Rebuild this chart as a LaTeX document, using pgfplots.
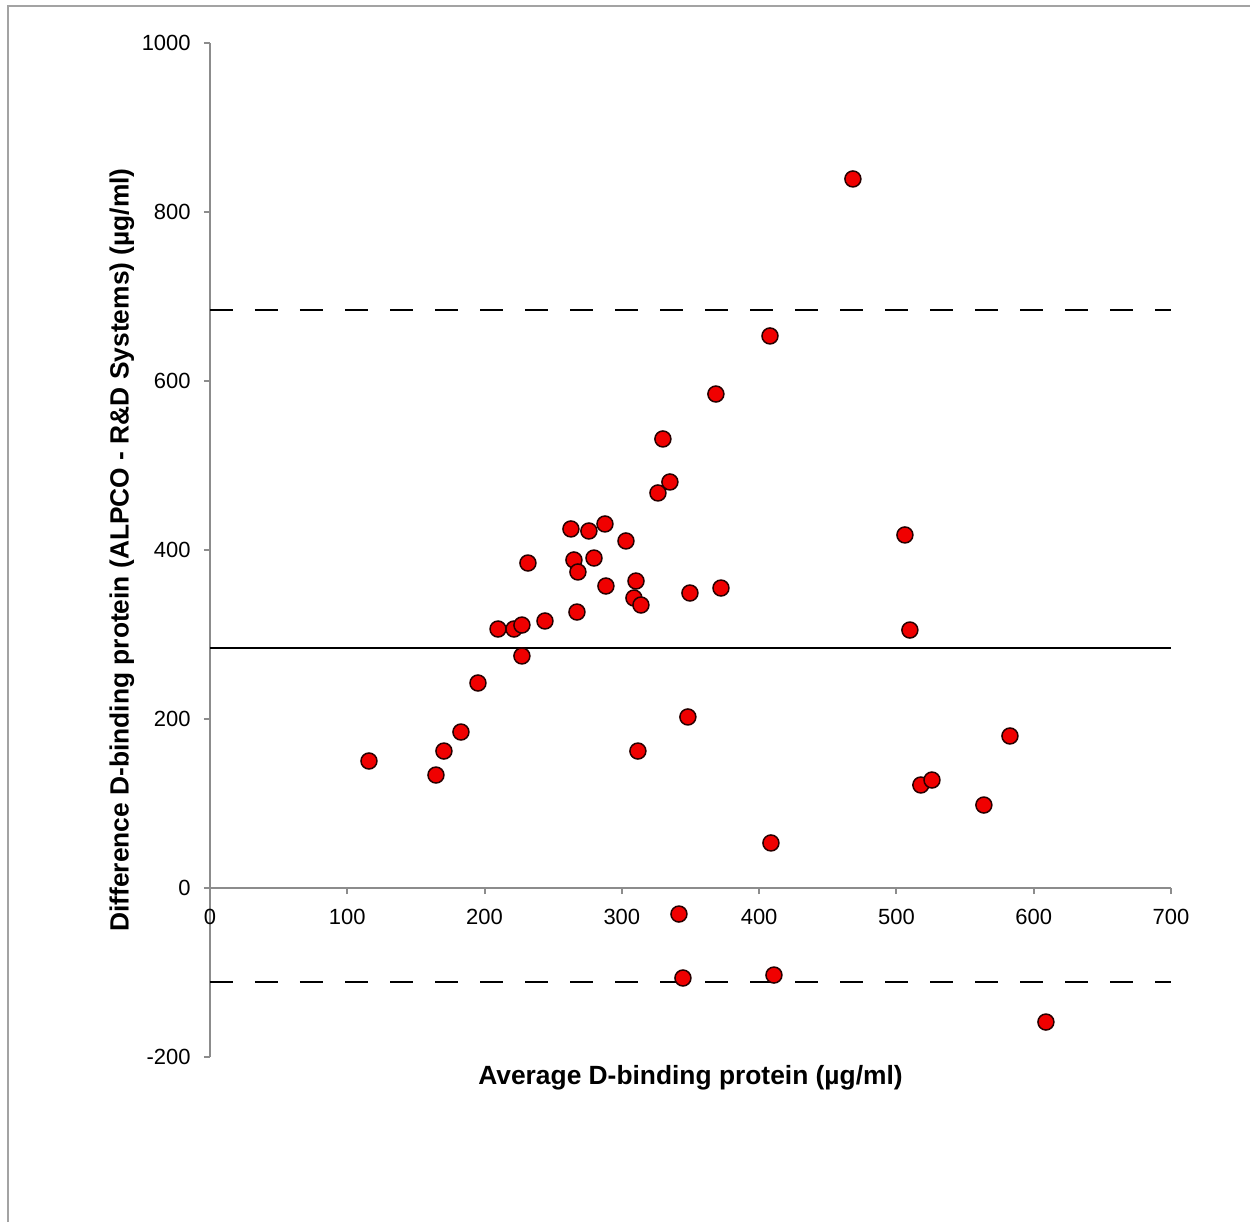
\documentclass[border=0pt]{standalone}
\usepackage{fontspec}
\setmainfont{Liberation Sans}
\usepackage{pgfplots}
\pgfplotsset{compat=1.18}
\definecolor{axgray}{HTML}{8C8C8C}
\definecolor{ptred}{HTML}{F00000}

\begin{document}
\begin{tikzpicture}
  % page = 1250 x 1222 px at 0.2 mm per px, axis box corner at the origin
  \path[use as bounding box] (-42mm,-33mm) rectangle (208mm,211.4mm);
  \begin{axis}[
      scale only axis,
      width=192.2mm,
      height=202.8mm,
      xmin=0, xmax=700,
      ymin=-200, ymax=1000,
      xtick={0,100,...,700},
      ytick={-200,0,...,1000},
      axis x line=middle,
      axis y line=left,
      hide obscured x ticks=false,
      axis line style={-, draw=axgray, line width=0.4mm},
      tick style={draw=axgray, line width=0.4mm},
      tick align=outside,
      major tick length=1.2mm,
      /pgf/number format/assume math mode=true,
      /pgf/number format/1000 sep={},
      tick label style={font=\fontsize{12.5}{14}\selectfont},
      xticklabel style={anchor=north, inner sep=0pt, yshift=-2.9mm},
      yticklabel style={anchor=east, inner sep=0pt, xshift=-2.6mm},
      label style={font=\fontsize{15}{18}\selectfont\bfseries},
      xlabel={Average D-binding protein (µg/ml)},
      ylabel={Difference D-binding protein (ALPCO - R\&D Systems) (µg/ml)},
      xlabel style={at={(axis description cs:0.5,-0.0207)}, anchor=center},
      ylabel style={at={(axis description cs:-0.0916,0.5)}, anchor=center, rotate=0},
      clip=false,
    ]
    % mean difference and limits of agreement
    \addplot[black, line width=0.4mm, mark=none] coordinates {(0,284) (700,284)};
    \addplot[black, line width=0.5mm, dash pattern=on 4.6mm off 4.4mm, mark=none]
      coordinates {(0,684) (700,684)};
    \addplot[black, line width=0.5mm, dash pattern=on 4.6mm off 4.4mm, mark=none]
      coordinates {(0,-111) (700,-111)};
    % paired samples
    \addplot[only marks, mark=*, mark size=1.6mm,
      mark options={fill=ptred, draw=black!85!red, line width=0.3mm}]
      coordinates {
        (115.8,150.3) (164.6,133.7) (170.4,162.1) (182.8,184.6) (195.2,242.6)
        (209.8,306.5) (221.4,306.5) (227.2,311.2) (227.2,274.6) (231.6,384.6)
        (244.0,316.0) (262.9,424.9) (265.1,388.2) (268.0,374.0) (267.3,326.6)
        (276.0,422.5) (279.7,390.5) (287.7,430.8) (288.4,357.4) (303.0,410.7)
        (310.3,363.3) (308.8,343.2) (313.9,334.9) (311.7,162.1) (326.3,467.5)
        (329.9,531.4) (335.0,480.5) (341.6,-30.8) (344.5,-106.5) (348.1,202.4)
        (349.6,349.1) (368.5,584.6) (372.2,355.0) (407.9,653.3) (408.6,53.3)
        (410.8,-103.0) (468.3,839.1) (506.2,417.8) (509.8,305.3) (517.8,121.9)
        (525.9,127.8) (563.7,98.2) (582.7,179.9) (608.9,-158.6)
      };
  \end{axis}
  % thin grey frame on the left and top edges of the figure
  \draw[draw=axgray!80, line width=0.4mm] (-40.4mm,-33mm) -- (-40.4mm,210.2mm) -- (208mm,210.2mm);
\end{tikzpicture}
\end{document}
